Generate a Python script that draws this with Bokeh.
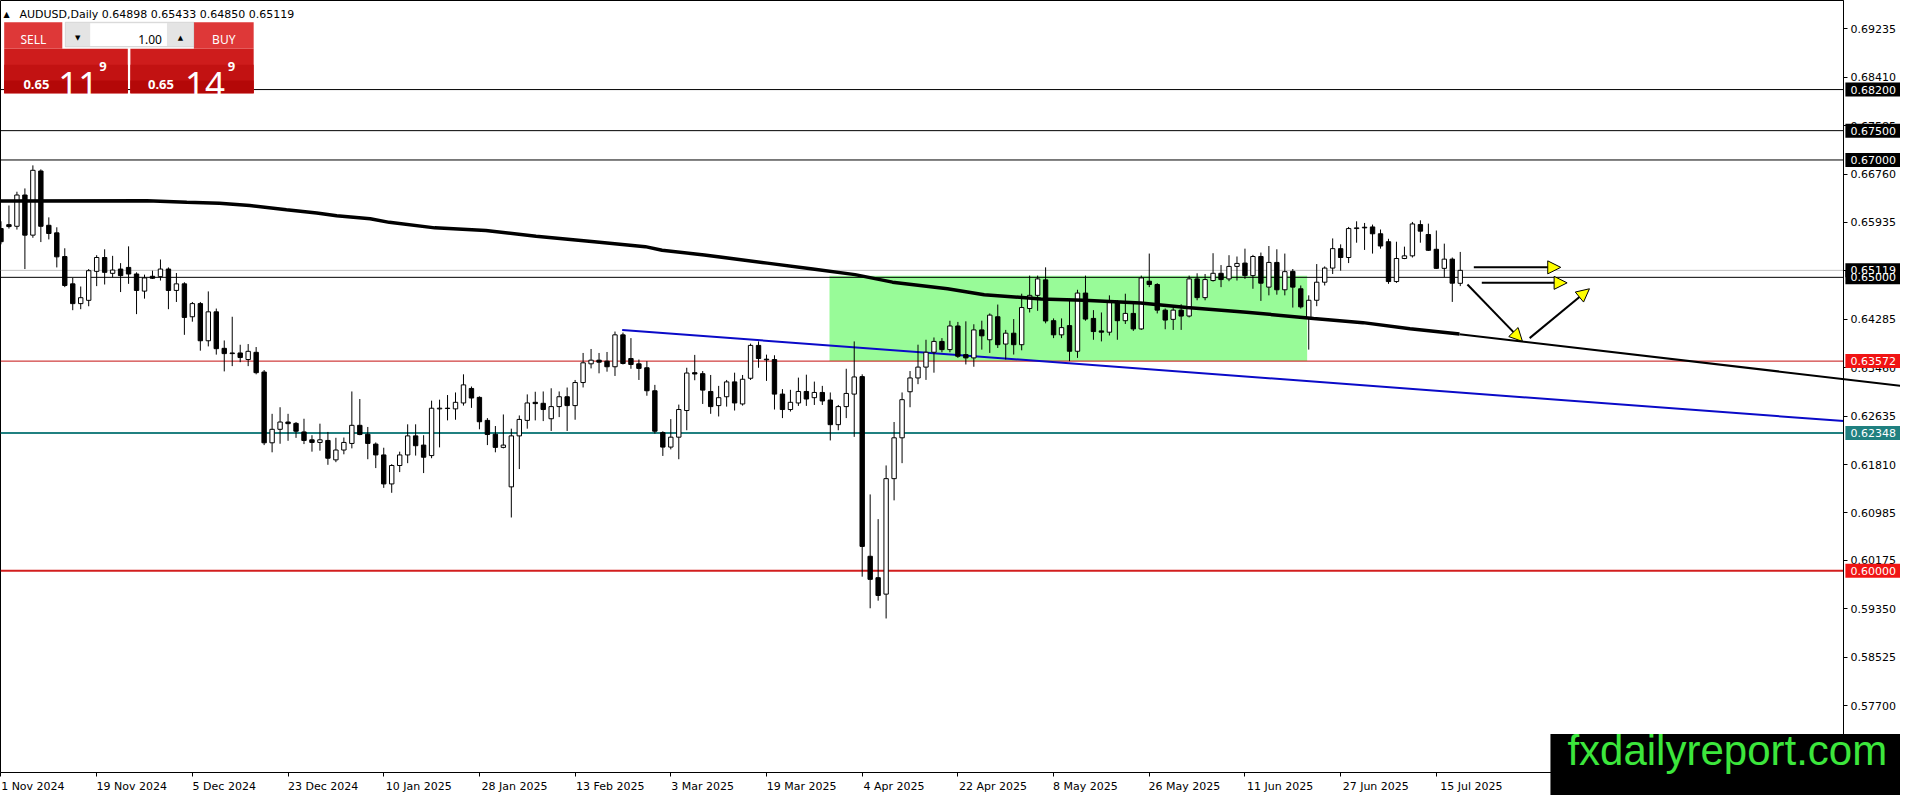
from bokeh.plotting import figure
from bokeh.models import (Range1d, FixedTicker, PrintfTickFormatter, Span, BoxAnnotation,
                          Label, Arrow, NormalHead, ColumnDataSource)
from bokeh.core.properties import value
from bokeh.embed import file_html
from bokeh.resources import INLINE

# AUDUSD daily candles, 1 Nov 2024 .. 18 Jul 2025 (bar index 0..183)
opens = [0.65831, 0.65898, 0.65870, 0.66403, 0.65719, 0.66812, 0.65887, 0.65758, 0.65354, 0.64889,
         0.64552, 0.64608, 0.65102, 0.65338, 0.65068, 0.65141, 0.65169, 0.65057, 0.64765, 0.65018,
         0.65012, 0.65141, 0.64777, 0.64889, 0.64328, 0.64552, 0.63919, 0.64412, 0.63790, 0.63711,
         0.63711, 0.63599, 0.63722, 0.63386, 0.62180, 0.62410, 0.62534, 0.62511, 0.62365, 0.62231,
         0.62186, 0.62220, 0.61889, 0.62057, 0.62169, 0.62478, 0.62326, 0.62158, 0.61973, 0.61479,
         0.61793, 0.61973, 0.62298, 0.62141, 0.61962, 0.62758, 0.62764, 0.62758, 0.62859, 0.63106,
         0.62954, 0.62562, 0.62326, 0.62102, 0.61429, 0.62298, 0.62562, 0.62870, 0.62853, 0.62590,
         0.62797, 0.62965, 0.62814, 0.63207, 0.63526, 0.63588, 0.63571, 0.63476, 0.64020, 0.63616,
         0.63526, 0.63459, 0.63067, 0.62354, 0.62107, 0.62276, 0.62730, 0.63375, 0.63358, 0.63055,
         0.62814, 0.62965, 0.63218, 0.62842, 0.63280, 0.63840, 0.63605, 0.63599, 0.63010, 0.62747,
         0.62859, 0.63055, 0.62949, 0.63038, 0.62909, 0.62489, 0.62797, 0.63010, 0.63308, 0.60246,
         0.59881, 0.59601, 0.61569, 0.62265, 0.63050, 0.63285, 0.63470, 0.63723, 0.63908, 0.63768,
         0.64171, 0.63683, 0.63627, 0.64104, 0.63936, 0.64328, 0.63863, 0.64048, 0.63852, 0.64469,
         0.64693, 0.64957, 0.64261, 0.64020, 0.64177, 0.63740, 0.64732, 0.64300, 0.64087, 0.64065,
         0.64570, 0.64261, 0.64385, 0.64121, 0.64934, 0.64878, 0.64441, 0.64284, 0.64441, 0.64340,
         0.64973, 0.64654, 0.64945, 0.65069, 0.64973, 0.65186, 0.65243, 0.65029, 0.65355, 0.64833,
         0.65254, 0.64788, 0.65102, 0.64805, 0.64300, 0.64609, 0.64917, 0.65158, 0.65489, 0.65338,
         0.65831, 0.65854, 0.65859, 0.65742, 0.65607, 0.64928, 0.65321, 0.65366, 0.65899, 0.65730,
         0.65478, 0.65153, 0.65310, 0.64898]
highs = [0.65955, 0.66224, 0.66459, 0.66515, 0.66908, 0.66840, 0.66022, 0.65853, 0.65495, 0.64990,
         0.64844, 0.65141, 0.65377, 0.65478, 0.65366, 0.65242, 0.65528, 0.65085, 0.65046, 0.65113,
         0.65304, 0.65169, 0.65074, 0.64917, 0.64580, 0.64580, 0.64760, 0.64468, 0.63924, 0.64328,
         0.63851, 0.63863, 0.63812, 0.63420, 0.62674, 0.62786, 0.62674, 0.62534, 0.62590, 0.62309,
         0.62506, 0.62365, 0.62265, 0.62270, 0.63055, 0.62926, 0.62450, 0.62186, 0.62096, 0.61816,
         0.62029, 0.62495, 0.62495, 0.62309, 0.62898, 0.62915, 0.62994, 0.63038, 0.63347, 0.63139,
         0.62971, 0.62601, 0.62466, 0.62663, 0.62421, 0.62646, 0.63005, 0.63050, 0.63055, 0.63109,
         0.63055, 0.63122, 0.63251, 0.63711, 0.63779, 0.63711, 0.63728, 0.64076, 0.64059, 0.63964,
         0.63599, 0.63571, 0.63167, 0.62377, 0.62584, 0.62831, 0.63459, 0.63678, 0.63403, 0.63336,
         0.63150, 0.63251, 0.63375, 0.63336, 0.63870, 0.63908, 0.63683, 0.63672, 0.63095, 0.63083,
         0.63291, 0.63341, 0.63223, 0.63150, 0.63038, 0.62825, 0.63442, 0.63908, 0.63347, 0.61300,
         0.60879, 0.61794, 0.62534, 0.63038, 0.63403, 0.63852, 0.63936, 0.63975, 0.63964, 0.64260,
         0.64240, 0.64250, 0.64200, 0.64261, 0.64385, 0.64536, 0.64104, 0.64289, 0.64721, 0.65029,
         0.65029, 0.65170, 0.64300, 0.64300, 0.64637, 0.64788, 0.65029, 0.64441, 0.64401, 0.64693,
         0.64609, 0.64721, 0.64570, 0.65029, 0.65405, 0.64900, 0.64469, 0.64480, 0.64541, 0.65029,
         0.65069, 0.65057, 0.65411, 0.65209, 0.65377, 0.65355, 0.65489, 0.65383, 0.65422, 0.65534,
         0.65478, 0.65405, 0.65142, 0.64861, 0.64693, 0.65226, 0.65186, 0.65663, 0.65562, 0.65859,
         0.65955, 0.65927, 0.65899, 0.65815, 0.65657, 0.65607, 0.65523, 0.65944, 0.65972, 0.65915,
         0.65798, 0.65574, 0.65338, 0.65433]
lows = [0.65562, 0.65831, 0.65814, 0.65141, 0.65674, 0.65601, 0.65646, 0.65169, 0.64833, 0.64440,
        0.64457, 0.64507, 0.64850, 0.64878, 0.65001, 0.64749, 0.64889, 0.64373, 0.64637, 0.64973,
        0.64945, 0.64457, 0.64580, 0.64020, 0.64244, 0.63750, 0.63823, 0.63683, 0.63397, 0.63487,
        0.63554, 0.63487, 0.63347, 0.62141, 0.62018, 0.62164, 0.62214, 0.62264, 0.62158, 0.62029,
        0.62046, 0.61805, 0.61850, 0.61984, 0.62085, 0.62309, 0.61900, 0.61749, 0.61412, 0.61328,
        0.61681, 0.61833, 0.61962, 0.61664, 0.61917, 0.62102, 0.62562, 0.62573, 0.62814, 0.62775,
        0.62410, 0.62141, 0.62018, 0.62085, 0.60907, 0.61732, 0.62421, 0.62562, 0.62550, 0.62382,
        0.62618, 0.62382, 0.62573, 0.63123, 0.63448, 0.63364, 0.63392, 0.63319, 0.63515, 0.63442,
        0.63251, 0.62982, 0.62337, 0.61956, 0.62068, 0.61900, 0.62394, 0.63246, 0.62842, 0.62674,
        0.62629, 0.62797, 0.62730, 0.62814, 0.63251, 0.63459, 0.63235, 0.62747, 0.62601, 0.62713,
        0.62809, 0.62809, 0.62825, 0.62825, 0.62220, 0.62394, 0.62601, 0.62281, 0.59898, 0.59360,
        0.59489, 0.59186, 0.61199, 0.61833, 0.62786, 0.63179, 0.63252, 0.63375, 0.63723, 0.63723,
        0.63627, 0.63515, 0.63476, 0.63768, 0.63712, 0.63796, 0.63599, 0.63684, 0.63756, 0.64401,
        0.64429, 0.64216, 0.63964, 0.63964, 0.63571, 0.63627, 0.64261, 0.63936, 0.63908, 0.64009,
        0.63936, 0.64205, 0.64087, 0.64104, 0.64833, 0.64385, 0.64115, 0.64104, 0.64104, 0.64317,
        0.64609, 0.64609, 0.64928, 0.64833, 0.64934, 0.64945, 0.64973, 0.64805, 0.64598, 0.64693,
        0.64704, 0.64693, 0.64485, 0.64469, 0.63768, 0.64508, 0.64861, 0.65057, 0.65114, 0.65243,
        0.65590, 0.65467, 0.65405, 0.65489, 0.64889, 0.64906, 0.65310, 0.65338, 0.65590, 0.65450,
        0.65142, 0.65002, 0.64581, 0.64850]
closes = [0.65607, 0.65865, 0.66403, 0.65719, 0.66824, 0.65870, 0.65747, 0.65349, 0.64861, 0.64552,
          0.64653, 0.65113, 0.65338, 0.65085, 0.65124, 0.65029, 0.65057, 0.64777, 0.64990, 0.64984,
          0.65141, 0.64777, 0.64889, 0.64317, 0.64552, 0.63919, 0.64412, 0.63784, 0.63700, 0.63700,
          0.63633, 0.63739, 0.63375, 0.62180, 0.62410, 0.62534, 0.62506, 0.62377, 0.62220, 0.62186,
          0.62231, 0.61917, 0.62057, 0.62186, 0.62478, 0.62321, 0.62169, 0.61973, 0.61479, 0.61793,
          0.61973, 0.62298, 0.62130, 0.61934, 0.62769, 0.62770, 0.62770, 0.62870, 0.63167, 0.62943,
          0.62539, 0.62321, 0.62102, 0.62141, 0.62298, 0.62578, 0.62859, 0.62848, 0.62747, 0.62797,
          0.62965, 0.62814, 0.63207, 0.63543, 0.63588, 0.63554, 0.63476, 0.64020, 0.63532, 0.63515,
          0.63448, 0.63067, 0.62377, 0.62107, 0.62276, 0.62747, 0.63369, 0.63353, 0.63078, 0.62797,
          0.62949, 0.63218, 0.62859, 0.63263, 0.63840, 0.63616, 0.63594, 0.63010, 0.62747, 0.62870,
          0.63055, 0.62926, 0.63038, 0.62893, 0.62489, 0.62797, 0.63021, 0.63302, 0.60414, 0.59853,
          0.59578, 0.61569, 0.62265, 0.62915, 0.63285, 0.63470, 0.63723, 0.63908, 0.63768, 0.64171,
          0.63655, 0.63627, 0.64104, 0.64003, 0.64356, 0.63852, 0.64048, 0.63852, 0.64485, 0.64693,
          0.64973, 0.64256, 0.64020, 0.64143, 0.63740, 0.64732, 0.64289, 0.64076, 0.64065, 0.64570,
          0.64261, 0.64385, 0.64121, 0.64990, 0.64878, 0.64441, 0.64272, 0.64441, 0.64340, 0.64973,
          0.64654, 0.64962, 0.65069, 0.64962, 0.65186, 0.65237, 0.65029, 0.65355, 0.64900, 0.65254,
          0.64788, 0.65097, 0.64833, 0.64497, 0.64609, 0.64917, 0.65158, 0.65489, 0.65338, 0.65831,
          0.65843, 0.65843, 0.65742, 0.65534, 0.64928, 0.65321, 0.65366, 0.65910, 0.65787, 0.65461,
          0.65153, 0.65310, 0.64900, 0.65119]
ask_price = 0.65149

date_ticks = [0, 12, 24, 36, 48, 60, 72, 84, 96, 108, 120, 132, 144, 156, 168, 180]
date_labels = ["1 Nov 2024", "19 Nov 2024", "5 Dec 2024", "23 Dec 2024", "10 Jan 2025",
               "28 Jan 2025", "13 Feb 2025", "3 Mar 2025", "19 Mar 2025", "4 Apr 2025",
               "22 Apr 2025", "8 May 2025", "26 May 2025", "11 Jun 2025", "27 Jun 2025",
               "15 Jul 2025"]
price_ticks = [0.69235, 0.68410, 0.67585, 0.66760, 0.65935, 0.65110, 0.64285, 0.63460,
               0.62635, 0.61810, 0.60985, 0.60175, 0.59350, 0.58525, 0.57700]

# moving average (thick black), read at sampled bars
ma_idx = [0, 18.3, 23.3, 27.4, 31.2, 35.8, 39.6, 42.1, 46.3, 48.7, 54.4, 60.8, 67.1, 74.4,
          80.8, 82.9, 88.2, 96.1, 101.8, 107.1, 111.8, 118.7, 123.3, 130.4, 135.8, 142.9,
          148.7, 156.2, 164.6, 170.8, 176.7, 182.9]
ma_val = [0.66302, 0.66307, 0.66281, 0.66264, 0.66223, 0.66151, 0.66095, 0.66050, 0.66000,
          0.65937, 0.65843, 0.65798, 0.65702, 0.65608, 0.65523, 0.65461, 0.65382, 0.65242,
          0.65141, 0.65046, 0.64918, 0.64805, 0.64704, 0.64632, 0.64608, 0.64564, 0.64485,
          0.64406, 0.64299, 0.64228, 0.64125, 0.64036]

# drawn objects
black_levels = [0.68200, 0.67500, 0.67000, 0.65000]
red_level = 0.63572
teal_level = 0.62348
big_level = 0.60000
blue_trend_x = [77.9, 231.1]
blue_trend_y = [0.64103, 0.62550]
black_trend_x = [182.9, 239.1]
black_trend_y = [0.64031, 0.63139]
zone_left, zone_right = 103.9, 163.8
zone_top, zone_bottom = 0.65029, 0.63572
arrow_x0 = [184.7, 185.7, 183.9, 191.7]
arrow_y0 = [0.65170, 0.64906, 0.64877, 0.63964]
arrow_x1 = [195.6, 196.4, 190.8, 199.2]
arrow_y1 = [0.65170, 0.64906, 0.63908, 0.64805]

FW, FH = 1843, 772
X_LO, X_HI = -0.06, 231.06
Y_LO, Y_HI = 0.56561, 0.69718
AX_FONT = "DejaVu Sans"


# reference-pixel helpers for the chrome (panel, tags, watermark)
def sx(px):
    return (px - 3) * FW / 1849


def sy(py):
    return FH - (py - 3) * FH / 782


def dx(px):
    return X_LO + sx(px) * (X_HI - X_LO) / FW


def dy(py):
    return Y_LO + sy(py) * (Y_HI - Y_LO) / FH


p = figure(frame_width=FW, frame_height=FH, x_range=Range1d(X_LO, X_HI),
           y_range=Range1d(Y_LO, Y_HI), y_axis_location="right",
           output_backend="svg", toolbar_location=None)
p.min_border_left = 0
p.min_border_top = 0
p.min_border_bottom = 0
p.min_border_right = 57
p.outline_line_color = "black"
p.outline_line_alpha = 1
p.xgrid.visible = False
p.ygrid.visible = False
p.background_fill_color = "white"

# MT4 writes each date to the right of its tick: labels sit on shifted major ticks,
# the tick marks themselves are drawn as minor ticks
label_ticks = [t + len(lab) * 3.2 / 8 for t, lab in zip(date_ticks, date_labels)]
p.xaxis.ticker = FixedTicker(ticks=label_ticks, minor_ticks=date_ticks)
p.xaxis.major_label_overrides = {t: lab for t, lab in zip(label_ticks, date_labels)}
p.xaxis.major_tick_line_color = None
p.xaxis.minor_tick_line_color = "black"
p.xaxis.minor_tick_in = 0
p.xaxis.minor_tick_out = 4
p.xaxis.major_label_standoff = 1

p.yaxis.ticker = FixedTicker(ticks=price_ticks)
p.yaxis.formatter = PrintfTickFormatter(format="%.5f")
p.yaxis.major_tick_line_color = "black"
p.yaxis.major_tick_in = 0
p.yaxis.major_tick_out = 4
p.yaxis.minor_tick_line_color = None
p.yaxis.major_label_standoff = 3
for ax in (p.xaxis, p.yaxis):
    ax.axis_line_color = "black"
    ax.major_label_text_font = AX_FONT
    ax.major_label_text_font_size = "11px"
    ax.major_label_text_color = "black"

# support/resistance zone
p.add_layout(BoxAnnotation(left=zone_left, right=zone_right, top=zone_top, bottom=zone_bottom,
                           fill_color="#98FB98", fill_alpha=1, line_color=None, level="underlay"))

for lv in black_levels:
    p.add_layout(Span(location=lv, dimension="width", line_color="black", line_width=1,
                      level="underlay"))
p.add_layout(Span(location=closes[-1], dimension="width", line_color="#C0C0C0", line_width=1,
                  level="underlay"))
p.add_layout(Span(location=red_level, dimension="width", line_color="#C41010", line_width=1,
                  level="underlay"))
p.add_layout(Span(location=teal_level, dimension="width", line_color="#208080", line_width=2,
                  level="underlay"))
p.add_layout(Span(location=big_level, dimension="width", line_color="#D21E1E", line_width=2,
                  level="underlay"))

p.line(blue_trend_x, blue_trend_y, line_color="#0A0AC8", line_width=2)

idx = list(range(len(opens)))
src = ColumnDataSource(dict(
    x=idx, h=highs, l=lows,
    top=[max(o, c) for o, c in zip(opens, closes)],
    bottom=[min(o, c) for o, c in zip(opens, closes)],
    fill=["white" if c >= o else "black" for o, c in zip(opens, closes)],
))
p.segment(x0="x", y0="l", x1="x", y1="h", source=src, line_color="black", line_width=1)
p.vbar(x="x", width=0.55, top="top", bottom="bottom", fill_color="fill",
       line_color="black", line_width=1, source=src)

p.line(ma_idx, ma_val, line_color="black", line_width=3.5)
p.line(black_trend_x, black_trend_y, line_color="black", line_width=2, level="overlay")

for x0, y0, x1, y1 in zip(arrow_x0, arrow_y0, arrow_x1, arrow_y1):
    p.add_layout(Arrow(end=NormalHead(size=13, fill_color="#FFFF00", line_color="black",
                                      line_width=1),
                       x_start=x0, y_start=y0, x_end=x1, y_end=y1,
                       line_color="black", line_width=2))

# price tags on the right scale
tag_prices = black_levels[:3] + [closes[-1], black_levels[3], red_level, teal_level, big_level]
tag_colors = ["black"] * 5 + ["#F01414", "#208080", "#F01414"]
p.rect(x=dx(1882), y=tag_prices, width=56, height=14, width_units="screen",
       height_units="screen", fill_color=tag_colors, line_color=None, level="overlay")
p.text(x=dx(1859), y=tag_prices, text=[f"{v:.5f}" for v in tag_prices],
       text_font=value(AX_FONT), text_font_size="11px", text_color="white",
       text_baseline="middle", level="overlay")


# one-click trading panel and header
def box(x0, x1, y0, y1, color, line=None):
    p.add_layout(BoxAnnotation(left=sx(x0), right=sx(x1), top=sy(y0), bottom=sy(y1),
                               left_units="screen", right_units="screen",
                               top_units="screen", bottom_units="screen",
                               fill_color=color, fill_alpha=1, line_color=line,
                               level="overlay"))


def text(x, y, s, size, color="white", align="left", bold=False, font="Noto Sans"):
    p.add_layout(Label(x=sx(x), y=sy(y), x_units="screen", y_units="screen", text=s,
                       text_font=font, text_font_size=size, text_color=color,
                       text_align=align, text_baseline="alphabetic",
                       text_font_style="bold" if bold else "normal", level="overlay"))


text(6, 17, "\u25b2", "8px", color="black", font=AX_FONT)
text(22, 17, f"AUDUSD,Daily {opens[-1]:.5f} {highs[-1]:.5f} {lows[-1]:.5f} {closes[-1]:.5f}",
     "11px", color="black", font=AX_FONT)

for x0, x1 in ((6.7, 130.7), (133.3, 257)):
    box(x0, x1, 52, 97, "#CE1C1C")
    box(x0, x1, 68, 97, "#C21212")
    box(x0, x1, 84, 97, "#B40808")
box(6.7, 65, 25, 52, "#DE3838")
box(197, 257, 25, 52, "#DE3838")
box(68, 197, 25, 50, "#E4E4E4", line="#A0A0A0")
box(93, 170, 26, 49, "white")

text(36, 43, "SELL", "12px", align="center")
text(227, 43, "BUY", "12px", align="center")
text(80.5, 41, "\u25bc", "7px", color="black", align="center", font=AX_FONT)
text(183.5, 41, "\u25b2", "7px", color="black", align="center", font=AX_FONT)
text(165, 42, "1.00", "12px", color="black", align="right")

bid_txt = f"{closes[-1]:.5f}"
ask_txt = f"{ask_price:.5f}"
for x_small, x_big, x_sup, s in ((26, 61, 102, bid_txt), (151, 188, 231, ask_txt)):
    text(x_small, 88, s[:4], "13px", bold=True)
    text(x_big, 88, s[4:6], "35px")
    text(x_sup, 70, s[6], "13px", bold=True)

# watermark
p.quad(left=dx(1558), right=dx(1930), top=dy(746), bottom=dy(815), fill_color="black",
       line_color=None, level="overlay")
p.text(x=dx(1575), y=dy(787), text=["fxdailyreport.com"], text_font=value("Liberation Sans"),
       text_font_size="42px", text_color="#3CE63C", level="overlay")

open("out.html", "w").write(file_html(p, INLINE))
